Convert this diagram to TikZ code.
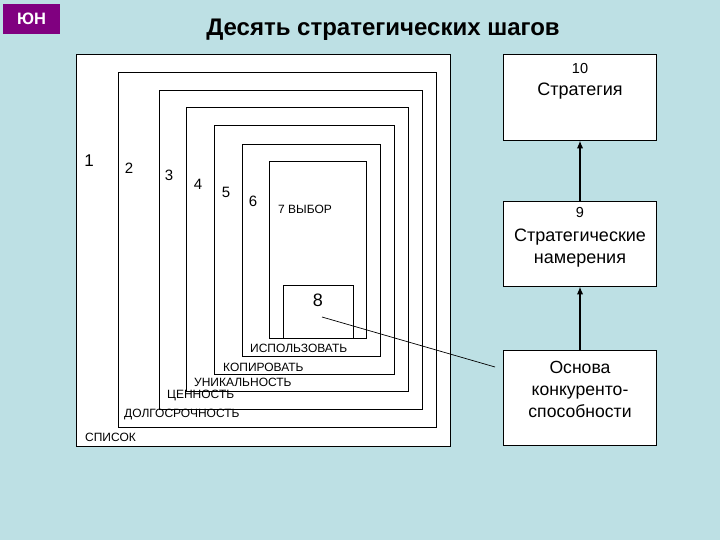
\documentclass[tikz,border=0pt]{standalone}
\usepackage{fontspec}
\setmainfont{Liberation Sans}
\usetikzlibrary{arrows.meta,positioning}
\definecolor{slidebg}{RGB}{189,224,228}
\definecolor{badgepurple}{RGB}{128,0,128}

\begin{document}
\begin{tikzpicture}[x=1pt, y=-1pt,
    frame/.style={draw, fill=white, line width=0.9pt},
    lvl/.style={inner sep=0pt, font=\fontsize{15}{17}\selectfont},
    lvlcap/.style={inner sep=0pt, anchor=west, font=\fontsize{12}{14}\selectfont},
    sbox/.style={draw, fill=white, line width=0.9pt, minimum width=153pt, inner sep=0pt},
    num/.style={inner sep=0pt, font=\fontsize{14.5}{16}\selectfont},
    word/.style={inner sep=0pt, align=center, font=\fontsize{18}{22}\selectfont},
    arr/.style={-{Latex[length=8pt,width=6.5pt]}, line width=2.2pt}
]
\fill[slidebg] (0,0) rectangle (720,540);

% badge and title
\node[fill=badgepurple, text=white, font=\bfseries\fontsize{16.5}{18}\selectfont,
      minimum width=57pt, minimum height=30pt, inner sep=0pt] (badge) at (31.5,19) {ЮН};
\node[font=\bfseries\fontsize{24}{28}\selectfont] (title) at (383,30) {Десять стратегических шагов};

% nested frames
\foreach \l/\t/\r/\b in {76/54/450/446, 118/72/436/427, 159/90/422/409, 186/107/408/391,
                         214/125/394/374, 242/144/380/356, 269/161/366/338, 283/285/353/338}
    \draw[frame] (\l,\t) rectangle (\r,\b);

% level numbers
\node[lvl, font=\fontsize{17}{19}\selectfont] (n1) at (89,161) {1};
\foreach \i/\x/\y in {2/129/168, 3/169/175, 4/198/184, 5/226/192, 6/253/201}
    \node[lvl] (n\i) at (\x,\y) {\i};
\node[lvlcap] (n7) at (278,209) {7 ВЫБОР};
\node[lvl, font=\fontsize{18}{20}\selectfont] (n8) at (318,300) {8};

% level captions
\node[lvlcap] (c6) at (250,348) {ИСПОЛЬЗОВАТЬ};
\node[lvlcap] (c5) at (223,367) {КОПИРОВАТЬ};
\node[lvlcap] (c4) at (194,382) {УНИКАЛЬНОСТЬ};
\node[lvlcap] (c3) at (167,396) {ЦЕННОСТЬ};
\node[lvlcap] (c2) at (124,415) {ДОЛГОСРОЧНОСТЬ};
\node[lvlcap] (c1) at (85,437) {СПИСОК};

% right column
\node[sbox, minimum height=86pt] (s10) at (580,97) {};
\node[sbox, minimum height=85pt] (s9) at (580,243.5) {};
\node[sbox, minimum height=95pt] (s0) at (580,397.5) {};

\node[num] (t10) at (580,69) {10};
\node[word] (w10) at (580,91) {Стратегия};
\node[num] (t9) at (580,213) {9};
\node[word] (w9) at (580,248) {Стратегические\\намерения};
\node[word, font=\fontsize{17.6}{22}\selectfont] (w0) at (580,389) {Основа\\конкуренто-\\способности};

\draw[arr] (s9.north) -- (s10.south);
\draw[arr] (s0.north) -- (s9.south);

% link from 8
\coordinate (p8) at (322,317);
\coordinate (pend) at (495,367);
\draw[line width=0.7pt] (p8) -- (pend);
\end{tikzpicture}
\end{document}
